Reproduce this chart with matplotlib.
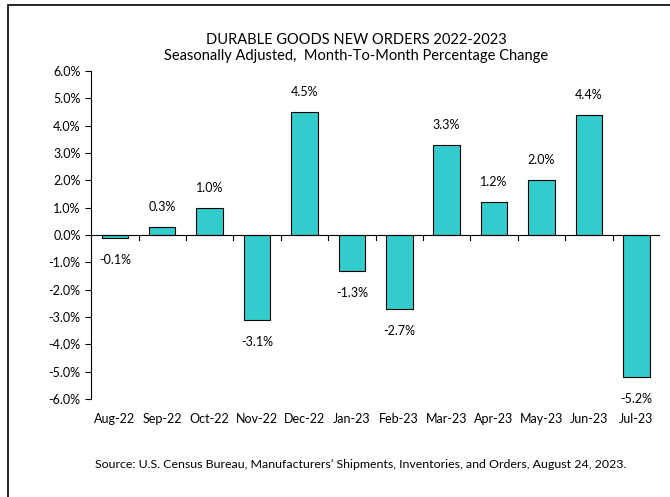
import matplotlib
matplotlib.use("Agg")
import matplotlib.pyplot as plt
from matplotlib.patches import Rectangle
from matplotlib.ticker import FuncFormatter, MultipleLocator

plt.rcParams['font.family'] = ['Lato', 'DejaVu Sans']

categories = ["Aug-22", "Sep-22", "Oct-22", "Nov-22", "Dec-22", "Jan-23",
              "Feb-23", "Mar-23", "Apr-23", "May-23", "Jun-23", "Jul-23"]
values = [-0.1, 0.3, 1.0, -3.1, 4.5, -1.3, -2.7, 3.3, 1.2, 2.0, 4.4, -5.2]

title1 = "DURABLE GOODS NEW ORDERS 2022-2023"
title2 = "Seasonally Adjusted,  Month-To-Month Percentage Change"
source = "Source: U.S. Census Bureau, Manufacturers\u2019 Shipments, Inventories, and Orders, August 24, 2023."

fig = plt.figure(figsize=(6.70, 4.97), dpi=100)
ax = fig.add_axes([0.136, 0.197, 0.849, 0.660])

x = list(range(len(categories)))
ax.bar(x, values, width=0.56, color="#33CCCC", edgecolor="black", linewidth=0.8, zorder=2)

ax.set_xlim(-0.5, len(categories) - 0.5)
ax.set_ylim(-6, 6)
ax.yaxis.set_major_locator(MultipleLocator(1))
ax.yaxis.set_major_formatter(FuncFormatter(lambda v, p: f"{v:.1f}%"))
ax.tick_params(axis='y', labelsize=9, length=4, direction='out', width=0.8)

for s in ["top", "right", "bottom"]:
    ax.spines[s].set_visible(False)
ax.spines["left"].set_linewidth(0.8)
ax.axhline(0, color="black", linewidth=0.8, zorder=3)

# zero-line tick marks between categories
ax.set_xticks([])
for b in [i + 0.5 for i in range(len(categories) - 1)]:
    ax.plot([b, b], [0, -0.18], color="black", linewidth=0.8, zorder=3, clip_on=False)

# category labels below plot
for i, c in enumerate(categories):
    ax.annotate(c, xy=(i, -6), xytext=(0, -14), textcoords="offset points",
                ha="center", va="center", fontsize=9)

# data labels
for i, v in enumerate(values):
    if v >= 0:
        ax.annotate(f"{v:.1f}%", xy=(i, v), xytext=(0, 14.5), textcoords="offset points",
                    ha="center", va="center", fontsize=9)
    else:
        ax.annotate(f"{v:.1f}%", xy=(i, v), xytext=(0, -16), textcoords="offset points",
                    ha="center", va="center", fontsize=9)

fig.text(0.532, 1 - 40 / 497, title1, ha="center", va="center", fontsize=10.5)
fig.text(0.532, 1 - 56 / 497, title2, ha="center", va="center", fontsize=10.5)
fig.text(0.539, 1 - 465 / 497, source, ha="center", va="center", fontsize=8.9)

fig.patches.append(Rectangle((8 / 670, -0.1), 1.2, 1 - 5 / 497 + 0.1, transform=fig.transFigure,
                             fill=False, edgecolor="black", linewidth=1.2))

fig.savefig("out.png", dpi=100)
